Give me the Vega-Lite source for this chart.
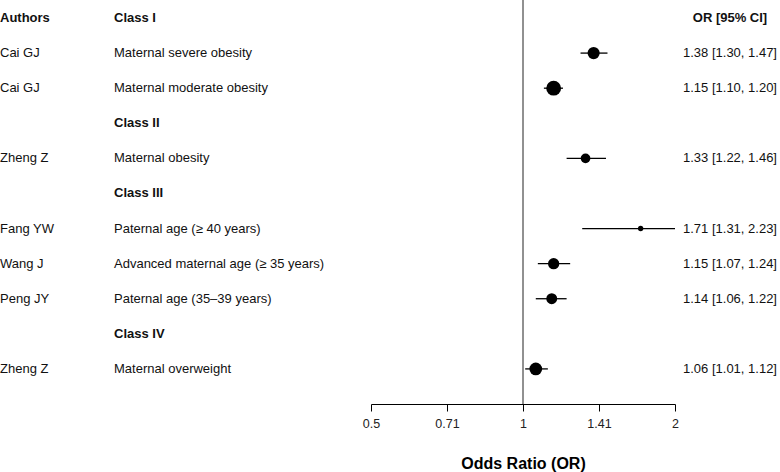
{
  "$schema": "https://vega.github.io/schema/vega-lite/v6.json",
  "width": 780,
  "height": 404,
  "autosize": {"type": "none"},
  "padding": {"left": 0, "right": 0, "top": 0, "bottom": 68},
  "background": "white",
  "config": {
    "font": "Liberation Sans",
    "view": {"stroke": null},
    "text": {"font": "Liberation Sans", "fontSize": 13, "color": "#111", "baseline": "middle"}
  },
  "data": {
    "values": [
      {"row": 0, "kind": "header", "author": "Authors", "factor": "Class I", "ci": "OR [95% CI]"},
      {"row": 1, "kind": "study", "author": "Cai GJ", "factor": "Maternal severe obesity", "or": 1.38, "lo": 1.30, "hi": 1.47, "ci": "1.38 [1.30, 1.47]", "weight": 0.67},
      {"row": 2, "kind": "study", "author": "Cai GJ", "factor": "Maternal moderate obesity", "or": 1.15, "lo": 1.10, "hi": 1.20, "ci": "1.15 [1.10, 1.20]", "weight": 1.0},
      {"row": 3, "kind": "class", "author": "", "factor": "Class II", "ci": ""},
      {"row": 4, "kind": "study", "author": "Zheng Z", "factor": "Maternal obesity", "or": 1.33, "lo": 1.22, "hi": 1.46, "ci": "1.33 [1.22, 1.46]", "weight": 0.43},
      {"row": 5, "kind": "class", "author": "", "factor": "Class III", "ci": ""},
      {"row": 6, "kind": "study", "author": "Fang YW", "factor": "Paternal age (≥ 40 years)", "or": 1.71, "lo": 1.31, "hi": 2.23, "ci": "1.71 [1.31, 2.23]", "weight": 0.13},
      {"row": 7, "kind": "study", "author": "Wang J", "factor": "Advanced maternal age (≥ 35 years)", "or": 1.15, "lo": 1.07, "hi": 1.24, "ci": "1.15 [1.07, 1.24]", "weight": 0.58},
      {"row": 8, "kind": "study", "author": "Peng JY", "factor": "Paternal age (35–39 years)", "or": 1.14, "lo": 1.06, "hi": 1.22, "ci": "1.14 [1.06, 1.22]", "weight": 0.54},
      {"row": 9, "kind": "class", "author": "", "factor": "Class IV", "ci": ""},
      {"row": 10, "kind": "study", "author": "Zheng Z", "factor": "Maternal overweight", "or": 1.06, "lo": 1.01, "hi": 1.12, "ci": "1.06 [1.01, 1.12]", "weight": 0.73}
    ]
  },
  "encoding": {
    "y": {"field": "row", "type": "quantitative", "scale": {"domain": [-0.513, 11], "reverse": true, "nice": false, "zero": false}, "axis": null}
  },
  "layer": [
    {
      "data": {"values": [{"ref": 1}]},
      "mark": {"type": "rule", "color": "#222", "strokeWidth": 1},
      "encoding": {
        "x": {"field": "ref", "type": "quantitative", "scale": {"type": "log", "domain": [0.5, 2], "range": [371, 675], "clamp": true, "nice": false}, "axis": null},
        "y": null
      }
    },
    {
      "transform": [{"filter": "datum.kind === 'study'"}],
      "layer": [
        {
          "mark": {"type": "rule", "color": "black", "strokeWidth": 1.3},
          "encoding": {
            "x": {"field": "lo", "type": "quantitative", "scale": {"type": "log", "domain": [0.5, 2], "range": [371, 675], "clamp": true, "nice": false},
              "axis": {"values": [0.5, 0.7071, 1, 1.4142, 2], "format": ".2~f", "grid": false, "labelFlush": false, "domainColor": "black", "tickColor": "black", "tickSize": 7, "labelFontSize": 12.5, "labelColor": "#222", "labelPadding": 6, "title": "Odds Ratio (OR)", "titleFontSize": 16, "titleFontWeight": "bold", "titleColor": "black", "titlePadding": 26}},
            "x2": {"field": "hi"}
          }
        },
        {
          "mark": {"type": "circle", "color": "black", "opacity": 1},
          "encoding": {
            "x": {"field": "or", "type": "quantitative"},
            "size": {"field": "weight", "type": "quantitative", "scale": {"domain": [0, 1], "range": [0, 220]}, "legend": null}
          }
        }
      ]
    },
    {
      "transform": [{"filter": "datum.kind === 'study'"}, {"fold": ["author", "factor"], "as": ["col", "txt"]}],
      "mark": {"type": "text", "align": "left"},
      "encoding": {
        "x": {"field": "col", "type": "nominal", "scale": {"domain": ["author", "factor"], "range": [0, 114], "padding": 0}, "axis": null},
        "text": {"field": "txt"}
      }
    },
    {
      "transform": [{"filter": "datum.kind !== 'study'"}, {"fold": ["author", "factor"], "as": ["col", "txt"]}, {"filter": "datum.txt !== ''"}],
      "mark": {"type": "text", "align": "left", "fontWeight": "bold"},
      "encoding": {
        "x": {"field": "col", "type": "nominal", "scale": {"domain": ["author", "factor"], "range": [0, 114], "padding": 0}, "axis": null},
        "text": {"field": "txt"}
      }
    },
    {
      "transform": [{"filter": "datum.kind === 'study'"}, {"fold": ["ci"], "as": ["col", "txt"]}],
      "mark": {"type": "text", "align": "center"},
      "encoding": {
        "x": {"field": "col", "type": "nominal", "scale": {"domain": ["ci"], "range": [730, 730], "padding": 0}, "axis": null},
        "text": {"field": "txt"}
      }
    },
    {
      "transform": [{"filter": "datum.kind === 'header'"}, {"fold": ["ci"], "as": ["col", "txt"]}],
      "mark": {"type": "text", "align": "center", "fontWeight": "bold"},
      "encoding": {
        "x": {"field": "col", "type": "nominal", "scale": {"domain": ["ci"], "range": [730, 730], "padding": 0}, "axis": null},
        "text": {"field": "txt"}
      }
    }
  ],
  "resolve": {"scale": {"x": "independent"}, "axis": {"x": "independent"}}
}
